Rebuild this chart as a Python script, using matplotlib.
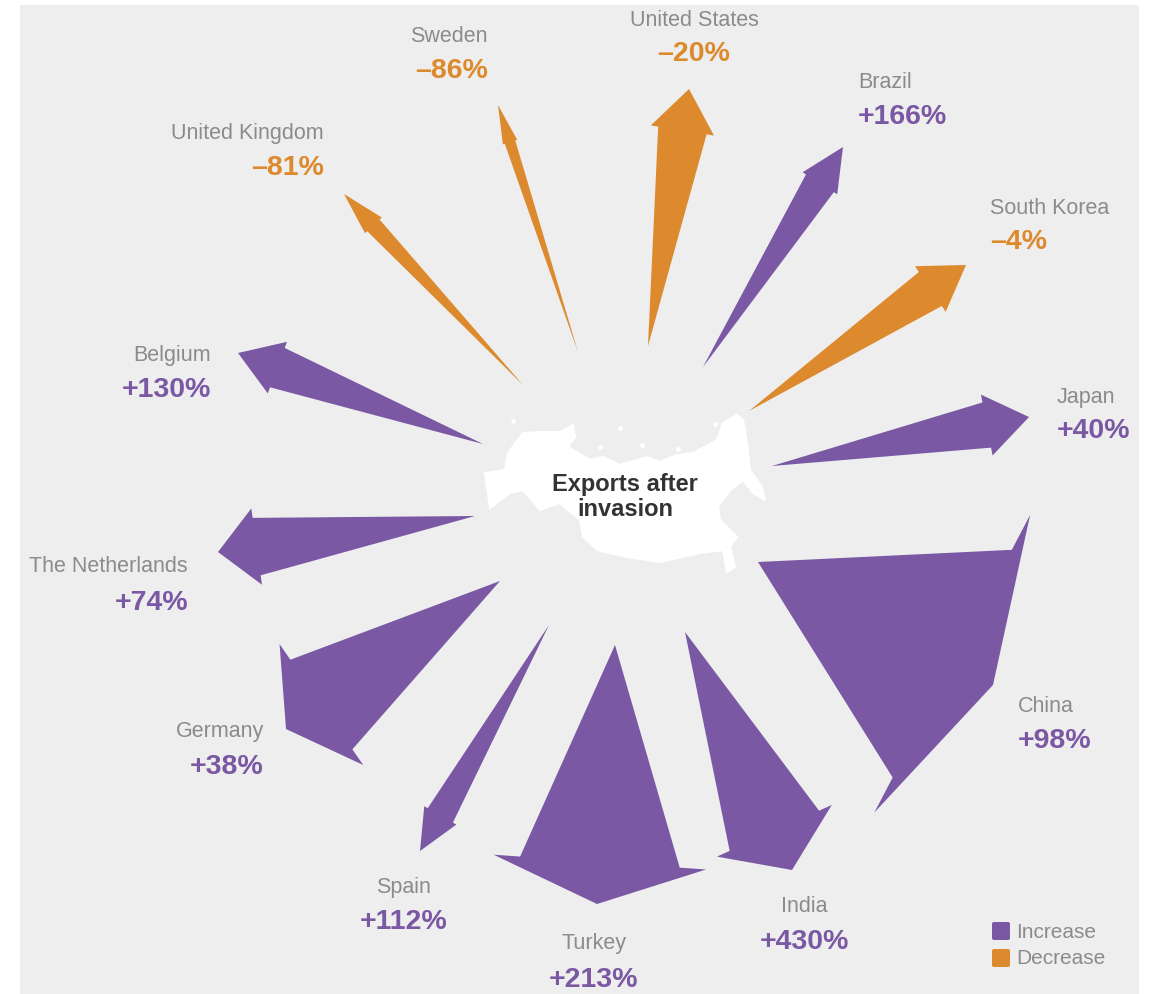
import matplotlib
matplotlib.use("Agg")
import matplotlib.pyplot as plt
import numpy as np
from matplotlib.patches import Polygon, FancyBboxPatch, Rectangle

plt.rcParams['font.family'] = ['Liberation Sans', 'DejaVu Sans']

PURPLE = '#7a58a3'
ORANGE = '#dd8a2e'
PANEL = '#eeeeee'
GREY = '#8b8b8b'

# values
countries = ['United States', 'Brazil', 'South Korea', 'Japan', 'China', 'India', 'Turkey',
             'Spain', 'Germany', 'The Netherlands', 'Belgium', 'United Kingdom', 'Sweden']
changes = ['–20%', '+166%', '–4%', '+40%', '+98%', '+430%', '+213%',
           '+112%', '+38%', '+74%', '+130%', '–81%', '–86%']

# arrow geometry, in picture pixels
tails = [(648, 346), (703, 367), (749, 411), (772, 466), (758, 562), (685, 632), (615, 645),
         (549, 625), (500, 581), (475, 516), (483, 444), (523, 385), (578, 352)]
tips = [(689, 89), (843, 147), (966, 265), (1029, 417), (993, 685), (792, 870), (597, 904),
        (420, 851), (286, 729), (218, 552), (238, 353), (344, 194), (498, 105)]
head_widths = [64, 41, 55, 62, 336, 126, 213, 37, 147, 77, 55, 23, 15]
shaft_widths = [49, 33, 41, 46, 257, 98, 160, 29, 109, 58, 42, 17, 11]
head_lengths = [42, 43, 43, 43, 46, 43, 42, 41, 43, 39, 42, 43, 39]

# label anchors
label_x = [694, 858, 990, 1057, 1018, 804, 594, 404, 264, 188, 211, 324, 488]
label_y = [20, 82, 208, 397, 706, 906, 944, 887, 732, 567, 355, 133, 36]
change_y = [54, 117, 242, 431, 741, 942, 980, 922, 767, 603, 390, 168, 71]
aligns = ['center', 'left', 'left', 'left', 'left', 'center', 'center',
          'center', 'right', 'right', 'right', 'right', 'right']

# outline of the map behind the centre text
russia_x = [485, 505, 508, 523, 540, 560, 573, 575, 568, 590, 603, 620, 647, 660, 677, 693, 717,
            723, 737, 743, 747, 750, 762, 765, 753, 743, 730, 718, 720, 737, 730, 735, 727, 723,
            700, 660, 627, 597, 583, 580, 560, 540, 523, 510, 490]
russia_y = [473, 470, 453, 433, 432, 432, 425, 437, 447, 460, 457, 465, 457, 462, 455, 453, 440,
            423, 415, 420, 443, 470, 487, 500, 493, 480, 490, 507, 520, 537, 547, 567, 572, 550,
            553, 562, 557, 550, 537, 520, 503, 510, 490, 493, 508]
# small islands around the map
island_x = [513, 620, 642, 715, 678, 600]
island_y = [421, 428, 445, 424, 449, 447]

fig = plt.figure(figsize=(11.51, 9.94), dpi=100)
ax = fig.add_axes([0, 0, 1, 1])
ax.set_xlim(0, 1151)
ax.set_ylim(994, 0)
ax.axis('off')

ax.add_patch(Rectangle((20, 5), 1119, 989, facecolor=PANEL, edgecolor='none', zorder=0))
ax.add_patch(Polygon(np.column_stack([russia_x, russia_y]), facecolor='white', edgecolor='white',
                     linewidth=1.5, zorder=1))
ax.scatter(island_x, island_y, s=12, color='white', linewidths=0, zorder=1)


def arrow_points(tail, tip, head_w, shaft_w, head_l):
    tail = np.array(tail, dtype=float)
    tip = np.array(tip, dtype=float)
    along = (tip - tail) / np.linalg.norm(tip - tail)
    across = np.array([-along[1], along[0]])
    base = tip - along * head_l
    return [tail,
            base + across * shaft_w / 2,
            base + across * head_w / 2,
            tip,
            base - across * head_w / 2,
            base - across * shaft_w / 2]


for i in range(len(countries)):
    color = ORANGE if changes[i].startswith('–') else PURPLE
    pts = arrow_points(tails[i], tips[i], head_widths[i], shaft_widths[i], head_lengths[i])
    ax.add_patch(Polygon(pts, facecolor=color, edgecolor='none', zorder=2))
    ax.text(label_x[i], label_y[i], countries[i], color=GREY, fontsize=15.5, ha=aligns[i], va='center')
    ax.text(label_x[i], change_y[i], changes[i], color=color, fontsize=20.5, fontweight='bold',
            ha=aligns[i], va='center')

ax.text(625, 484, 'Exports after', color='#333333', fontsize=17, fontweight='bold', ha='center', va='center')
ax.text(625, 509, 'invasion', color='#333333', fontsize=17, fontweight='bold', ha='center', va='center')

# legend
legend_names = ['Increase', 'Decrease']
legend_colors = [PURPLE, ORANGE]
legend_y = [931, 958]
for name, col, y in zip(legend_names, legend_colors, legend_y):
    ax.add_patch(FancyBboxPatch((994, y - 7), 14, 14, boxstyle='round,pad=2', facecolor=col, edgecolor='none'))
    ax.text(1016, y + 1, name, color=GREY, fontsize=15, ha='left', va='center')

fig.savefig('out.png', dpi=100)
